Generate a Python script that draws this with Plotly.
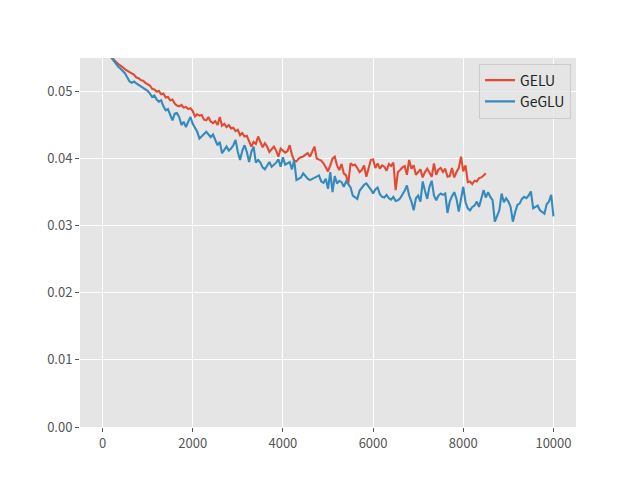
import numpy as np
import plotly.graph_objects as go

gelu_steps = list(range(0, 8501, 50))
gelu_loss = [
    0.0620, 0.0585, 0.0566, 0.0556,
    0.0551, 0.0547, 0.0544, 0.0541, 0.0539, 0.0536, 0.0533, 0.0531, 0.0529, 0.0526, 0.0525, 0.0521, 0.0520, 0.0517, 0.0516, 0.0513,
    0.0511, 0.0509, 0.0504, 0.0503, 0.0500, 0.0501, 0.0496, 0.0497, 0.0491, 0.0492, 0.0487, 0.0488, 0.0482, 0.0479, 0.0478, 0.0480, 0.0476, 0.0477, 0.0474, 0.0475,
    0.0471, 0.0463, 0.0466, 0.0464, 0.0465, 0.0458, 0.0457, 0.0462, 0.0455, 0.0453, 0.0456, 0.0450, 0.0462, 0.0449, 0.0452, 0.0447, 0.0450, 0.0445, 0.0446, 0.0441,
    0.0443, 0.0435, 0.0438, 0.0433, 0.0434, 0.0426, 0.0418, 0.0425, 0.0422, 0.0433, 0.0424, 0.0417, 0.0423, 0.0418, 0.0410, 0.0414, 0.0418, 0.0412, 0.0403, 0.0415,
    0.0412, 0.0409, 0.0411, 0.0420, 0.0406, 0.0397, 0.0396, 0.0400, 0.0402, 0.0403, 0.0406, 0.0408, 0.0403, 0.0410, 0.0418, 0.0400, 0.0398, 0.0397, 0.0393, 0.0386,
    0.0381, 0.0390, 0.0400, 0.0403, 0.0390, 0.0383, 0.0392, 0.0378, 0.0375, 0.0363, 0.0393, 0.0390, 0.0391, 0.0386, 0.0380, 0.0383, 0.0390, 0.0373, 0.0385, 0.0398,
    0.0399, 0.0386, 0.0393, 0.0385, 0.0390, 0.0388, 0.0382, 0.0392, 0.0389, 0.0394, 0.0353, 0.0380, 0.0383, 0.0387, 0.0389, 0.0376, 0.0398, 0.0385, 0.0390, 0.0376,
    0.0380, 0.0384, 0.0372, 0.0380, 0.0385, 0.0378, 0.0373, 0.0393, 0.0376, 0.0384, 0.0386, 0.0380, 0.0385, 0.0373, 0.0374, 0.0386, 0.0372, 0.0380, 0.0386, 0.0403,
    0.0381, 0.0390, 0.0365, 0.0366, 0.0362, 0.0367, 0.0366, 0.0371, 0.0372, 0.0375, 0.0378,
]

geglu_steps = list(range(0, 10001, 50))
geglu_loss = [
    0.0620, 0.0585, 0.0565, 0.0555,
    0.0550, 0.0545, 0.0540, 0.0537, 0.0534, 0.0530, 0.0527, 0.0521, 0.0515, 0.0513, 0.0515, 0.0512, 0.0510, 0.0508, 0.0506, 0.0503,
    0.0501, 0.0497, 0.0492, 0.0494, 0.0488, 0.0485, 0.0487, 0.0478, 0.0472, 0.0474, 0.0466, 0.0457, 0.0467, 0.0468, 0.0462, 0.0450, 0.0455, 0.0447, 0.0455, 0.0462,
    0.0452, 0.0446, 0.0440, 0.0430, 0.0433, 0.0437, 0.0440, 0.0436, 0.0432, 0.0436, 0.0428, 0.0420, 0.0425, 0.0408, 0.0413, 0.0418, 0.0412, 0.0415, 0.0420, 0.0428,
    0.0410, 0.0398, 0.0412, 0.0420, 0.0410, 0.0395, 0.0410, 0.0418, 0.0394, 0.0398, 0.0394, 0.0387, 0.0384, 0.0390, 0.0395, 0.0388, 0.0391, 0.0394, 0.0399, 0.0388,
    0.0402, 0.0391, 0.0393, 0.0395, 0.0384, 0.0398, 0.0368, 0.0370, 0.0372, 0.0378, 0.0374, 0.0370, 0.0368, 0.0370, 0.0371, 0.0374, 0.0375, 0.0366, 0.0364, 0.0370,
    0.0355, 0.0380, 0.0350, 0.0374, 0.0363, 0.0367, 0.0365, 0.0358, 0.0366, 0.0362, 0.0357, 0.0345, 0.0343, 0.0340, 0.0352, 0.0356, 0.0361, 0.0363, 0.0359, 0.0354,
    0.0348, 0.0354, 0.0357, 0.0347, 0.0343, 0.0342, 0.0346, 0.0341, 0.0339, 0.0343, 0.0337, 0.0338, 0.0341, 0.0346, 0.0352, 0.0360, 0.0345, 0.0336, 0.0323, 0.0341,
    0.0345, 0.0336, 0.0366, 0.0352, 0.0340, 0.0358, 0.0367, 0.0345, 0.0338, 0.0345, 0.0348, 0.0346, 0.0348, 0.0319, 0.0336, 0.0344, 0.0350, 0.0340, 0.0321, 0.0340,
    0.0358, 0.0335, 0.0326, 0.0323, 0.0328, 0.0330, 0.0336, 0.0328, 0.0340, 0.0353, 0.0342, 0.0350, 0.0343, 0.0338, 0.0306, 0.0316, 0.0323, 0.0348, 0.0335, 0.0341,
    0.0336, 0.0328, 0.0306, 0.0320, 0.0331, 0.0333, 0.0340, 0.0343, 0.0341, 0.0345, 0.0351, 0.0326, 0.0328, 0.0330, 0.0323, 0.0320, 0.0318, 0.0332, 0.0336, 0.0346,
    0.0314,
]

x_ticks = [0, 2000, 4000, 6000, 8000, 10000]
y_ticks = [0.00, 0.01, 0.02, 0.03, 0.04, 0.05]

fig = go.Figure()
fig.add_trace(go.Scatter(x=gelu_steps, y=gelu_loss, mode="lines", name="GELU",
                         line=dict(color="#E24A33", width=2.1)))
fig.add_trace(go.Scatter(x=geglu_steps, y=geglu_loss, mode="lines", name="GeGLU",
                         line=dict(color="#348ABD", width=2.1)))

font_family = "Noto Sans CJK JP, Noto Sans, sans-serif"
fig.update_layout(
    width=640, height=480,
    margin=dict(l=80, r=64, t=58, b=53),
    paper_bgcolor="white",
    plot_bgcolor="#E5E5E5",
    font=dict(family=font_family, size=13, color="#555555"),
    showlegend=True,
    legend=dict(x=0.99, y=0.985, xanchor="right", yanchor="top",
                bgcolor="rgba(229,229,229,0.8)", bordercolor="#CCCCCC", borderwidth=1,
                font=dict(size=14, color="#222222"), tracegroupgap=2),
)
fig.update_xaxes(range=[-500, 10500], tickvals=x_ticks, ticktext=[str(v) for v in x_ticks],
                 showgrid=True, gridcolor="white", gridwidth=1, zeroline=False,
                 showline=False, ticks="outside", ticklen=4, tickwidth=1, tickcolor="#555555",
                 tickfont=dict(size=13, color="#555555"))
fig.update_yaxes(range=[0, 0.055], tickvals=y_ticks, ticktext=[f"{v:.2f}" for v in y_ticks],
                 showgrid=True, gridcolor="white", gridwidth=1, zeroline=False,
                 showline=False, ticks="outside", ticklen=4, tickwidth=1, tickcolor="#555555",
                 tickfont=dict(size=13, color="#555555"))

fig.write_html("out.html")
